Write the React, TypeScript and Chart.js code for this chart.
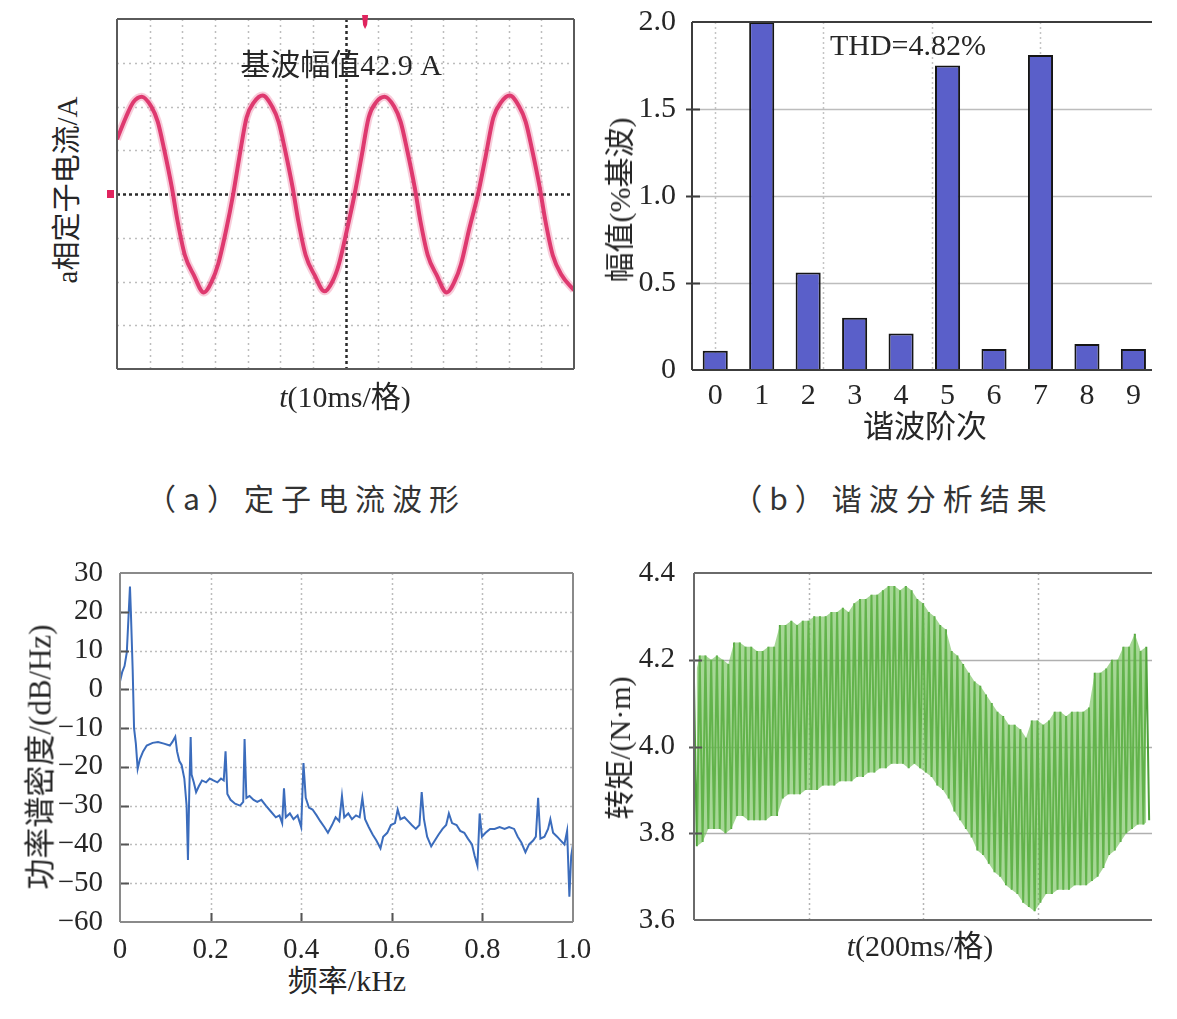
import React, { useEffect, useRef } from "react";
import { Chart, registerables } from "chart.js";

Chart.register(...registerables);

// ---------------- data ----------------
// (a) stator current waveform, t in ms, current in A (10 ms per division, 20 A per division)
const waveTimeMs = [
  0, 2.7, 5, 7.6, 10.5, 12.5, 14.5, 16.8, 18.5, 20.8, 23.5, 26.6, 29, 31, 33.5, 35.6,
  37.5, 39.7, 42, 44.6, 47.5, 49.5, 51.5, 53.8, 55.5, 57.8, 60.5, 63.6, 66, 68, 70.5, 72.8,
  74.9, 77.1, 79.4, 82, 84.9, 86.9, 88.9, 91.2, 92.9, 95.2, 97.9, 101, 103.4, 105.4, 107.9, 110.6,
  112.9, 115.3, 117.7, 120.3, 123.2, 125.2, 127.2, 129.5, 131.2, 133.5, 136.2, 140,
];
const waveCurrentA = [
  25, 35, 42, 44.5, 40, 33, 20, 3, -12, -28, -37, -45, -40, -32, -16, 0,
  17, 35, 42, 45, 40, 33, 20, 3, -12, -28, -37, -44.5, -40, -32, -16, 0,
  17, 35, 42, 44.5, 40, 33, 20, 3, -12, -28, -37, -45, -40, -32, -16, 0,
  17, 35, 42, 45, 40, 33, 20, 3, -12, -28, -37, -44,
];
const scopeGridMs = [10, 20, 30, 40, 50, 60, 80, 90, 100, 110, 120, 130];
const scopeGridA = [-60, -40, -20, 20, 40, 60];

// (b) harmonic analysis
const harmonicOrders = [0, 1, 2, 3, 4, 5, 6, 7, 8, 9];
const harmonicPercent = [0.11, 2.0, 0.56, 0.3, 0.21, 1.75, 0.12, 1.81, 0.15, 0.12];
const harmonicGridX = [0, 2.33, 4.67, 7];
const harmonicGridY = [0.5, 1.0, 1.5];

// (c) power spectral density
const psdFreqKHz = [
  0, 0.005, 0.01, 0.015, 0.0185, 0.022, 0.024, 0.028, 0.031, 0.035,
  0.039, 0.044, 0.051, 0.059, 0.072, 0.084, 0.097, 0.11, 0.116, 0.122,
  0.126, 0.131, 0.136, 0.142, 0.147, 0.15, 0.153, 0.156, 0.158, 0.163,
  0.168, 0.174, 0.181, 0.19, 0.198, 0.206, 0.215, 0.223, 0.229, 0.233,
  0.237, 0.244, 0.254, 0.265, 0.272, 0.275, 0.279, 0.286, 0.295, 0.303,
  0.312, 0.322, 0.333, 0.344, 0.352, 0.358, 0.362, 0.366, 0.375, 0.383,
  0.392, 0.4, 0.405, 0.41, 0.417, 0.425, 0.434, 0.442, 0.451, 0.459,
  0.468, 0.476, 0.484, 0.49, 0.495, 0.504, 0.512, 0.521, 0.529, 0.535,
  0.541, 0.549, 0.558, 0.566, 0.575, 0.581, 0.59, 0.598, 0.607, 0.613,
  0.619, 0.628, 0.636, 0.644, 0.653, 0.661, 0.666, 0.671, 0.678, 0.687,
  0.695, 0.703, 0.712, 0.72, 0.726, 0.733, 0.743, 0.751, 0.76, 0.768,
  0.777, 0.783, 0.789, 0.794, 0.799, 0.807, 0.817, 0.827, 0.838, 0.849,
  0.859, 0.87, 0.878, 0.886, 0.895, 0.903, 0.912, 0.918, 0.923, 0.928,
  0.937, 0.945, 0.95, 0.956, 0.965, 0.973, 0.981, 0.987, 0.992, 0.996,
  1.0,
];
const psdDbHz = [
  2, 4.5, 6, 9.5, 18, 26.5, 20, 5, -10, -14,
  -20.5, -18, -16, -14.5, -13.8, -13.6, -14, -14.5, -13.5, -12.2,
  -16, -18.5, -19.5, -23, -30, -44, -26, -12.3, -22, -24,
  -26.5, -25, -23.5, -24, -23, -23.5, -24, -23, -23.5, -16,
  -27, -28.5, -29.5, -30, -29, -12.8, -28, -27.5, -28.5, -29,
  -28.5, -30, -31.5, -33, -32.5, -34.5, -25.5, -33, -32, -33.5,
  -32.5, -35.5, -19, -28, -30.5, -31, -32.5, -34, -35.5, -37,
  -35, -33, -34, -27.5, -33, -32, -33.5, -32.5, -33, -28,
  -33.5, -35.5, -37.5, -39, -41, -38, -37, -35, -34.5, -31,
  -33.5, -33, -34, -35, -36, -35, -26.5, -33.5, -38, -40.5,
  -39, -37.5, -36, -35, -32, -34.5, -35, -36.5, -37, -38.5,
  -40, -43, -45.5, -32, -38, -37, -36, -36, -35.5, -36,
  -35.5, -36, -38, -39.5, -42, -40, -39, -38, -28, -38.5,
  -38, -36, -33.5, -37, -38, -39, -40, -36.5, -53.5, -43,
  -40,
];
const psdTicksX = [0, 0.2, 0.4, 0.6, 0.8, 1.0];
const psdTicksY = [-60, -50, -40, -30, -20, -10, 0, 10, 20, 30];

// (d) torque: per-cycle peak and trough (N·m), one cycle every 10 ms, 200 ms per division
const torqueCycleMs = 10;
const torqueUpper = [
  4.15, 4.21, 4.21, 4.2, 4.21, 4.2, 4.19, 4.24, 4.24, 4.23,
  4.23, 4.22, 4.22, 4.23, 4.23, 4.28, 4.28, 4.29, 4.28, 4.29,
  4.29, 4.3, 4.3, 4.3, 4.31, 4.31, 4.32, 4.31, 4.33, 4.34,
  4.34, 4.35, 4.35, 4.36, 4.37, 4.37, 4.36, 4.37, 4.36, 4.34,
  4.33, 4.31, 4.3, 4.28, 4.27, 4.22, 4.21, 4.19, 4.17, 4.15,
  4.14, 4.12, 4.1, 4.08, 4.07, 4.05, 4.05, 4.04, 4.02, 4.06,
  4.06, 4.05, 4.06, 4.08, 4.08, 4.07, 4.08, 4.08, 4.08, 4.09,
  4.17, 4.17, 4.18, 4.2, 4.2, 4.23, 4.23, 4.26, 4.22, 4.23,
];
const torqueLower = [
  3.77, 3.78, 3.81, 3.81, 3.81, 3.8, 3.81, 3.84, 3.84, 3.83,
  3.83, 3.83, 3.83, 3.84, 3.84, 3.88, 3.89, 3.89, 3.89, 3.9,
  3.9, 3.9, 3.91, 3.91, 3.91, 3.92, 3.92, 3.92, 3.93, 3.93,
  3.94, 3.94, 3.95, 3.95, 3.96, 3.96, 3.96, 3.95, 3.96, 3.95,
  3.94, 3.93, 3.91, 3.9, 3.88, 3.85, 3.83, 3.81, 3.79, 3.76,
  3.75, 3.73, 3.71, 3.7, 3.68, 3.67, 3.66, 3.64, 3.63, 3.62,
  3.64, 3.66, 3.66, 3.67, 3.67, 3.67, 3.68, 3.68, 3.68, 3.69,
  3.7, 3.72, 3.75, 3.76, 3.78, 3.8, 3.81, 3.82, 3.82, 3.83,
];
const torqueGridX = [200, 400, 600];
const torqueGridY = [3.8, 4.0, 4.2];

// ---------------- helpers ----------------
const FONT = "'Liberation Serif', 'Noto Sans CJK SC', serif";
const CJK = "'Noto Sans CJK SC', sans-serif";
const TEXT = "#262626";

type FrameCfg = {
  xGrid?: number[];
  yGrid?: number[];
  xGridStyle?: { color: string; width: number; dash: number[] };
  yGridStyle?: { color: string; width: number; dash: number[] };
  sides: string[];
  frameColor: string;
  frameWidth: number;
  yTicks?: number[];
  xTicks?: number[];
  tickIn?: number;
  tickOut?: number;
  tickColor?: string;
  extraBefore?: (chart: any) => void;
  extraAfter?: (chart: any) => void;
};

function framePlugin(cfg: FrameCfg) {
  return {
    id: "frameGrid",
    beforeDatasetsDraw(chart: any) {
      const { ctx, chartArea: a, scales } = chart;
      ctx.save();
      const xs = cfg.xGridStyle;
      if (xs && cfg.xGrid) {
        ctx.strokeStyle = xs.color;
        ctx.lineWidth = xs.width;
        ctx.setLineDash(xs.dash);
        cfg.xGrid.forEach((v) => {
          const p = Math.round(scales.x.getPixelForValue(v)) + 0.5;
          ctx.beginPath();
          ctx.moveTo(p, a.top);
          ctx.lineTo(p, a.bottom);
          ctx.stroke();
        });
      }
      const ys = cfg.yGridStyle;
      if (ys && cfg.yGrid) {
        ctx.strokeStyle = ys.color;
        ctx.lineWidth = ys.width;
        ctx.setLineDash(ys.dash);
        cfg.yGrid.forEach((v) => {
          const p = Math.round(scales.y.getPixelForValue(v)) + 0.5;
          ctx.beginPath();
          ctx.moveTo(a.left, p);
          ctx.lineTo(a.right, p);
          ctx.stroke();
        });
      }
      ctx.restore();
      if (cfg.extraBefore) cfg.extraBefore(chart);
    },
    afterDatasetsDraw(chart: any) {
      const { ctx, chartArea: a, scales } = chart;
      ctx.save();
      ctx.setLineDash([]);
      ctx.strokeStyle = cfg.tickColor || cfg.frameColor;
      ctx.lineWidth = 2;
      const tin = cfg.tickIn || 0;
      const tout = cfg.tickOut || 0;
      (cfg.yTicks || []).forEach((v) => {
        const p = Math.round(scales.y.getPixelForValue(v)) + 0.5;
        ctx.beginPath();
        ctx.moveTo(a.left - tout, p);
        ctx.lineTo(a.left + tin, p);
        ctx.stroke();
      });
      (cfg.xTicks || []).forEach((v) => {
        const p = Math.round(scales.x.getPixelForValue(v)) + 0.5;
        ctx.beginPath();
        ctx.moveTo(p, a.bottom + tout);
        ctx.lineTo(p, a.bottom - tin);
        ctx.stroke();
      });
      ctx.strokeStyle = cfg.frameColor;
      ctx.lineWidth = cfg.frameWidth;
      const s = cfg.sides;
      ctx.beginPath();
      if (s.includes("top")) { ctx.moveTo(a.left, a.top); ctx.lineTo(a.right, a.top); }
      if (s.includes("right")) { ctx.moveTo(a.right, a.top); ctx.lineTo(a.right, a.bottom); }
      if (s.includes("bottom")) { ctx.moveTo(a.left, a.bottom); ctx.lineTo(a.right, a.bottom); }
      if (s.includes("left")) { ctx.moveTo(a.left, a.top); ctx.lineTo(a.left, a.bottom); }
      ctx.stroke();
      ctx.restore();
      if (cfg.extraAfter) cfg.extraAfter(chart);
    },
  };
}

function baseOptions(padding: any) {
  return {
    responsive: false,
    maintainAspectRatio: false,
    animation: false as const,
    events: [] as any[],
    layout: { padding },
    plugins: { legend: { display: false }, tooltip: { enabled: false } },
  };
}

function ChartCanvas(props: { left: number; top: number; width: number; height: number; build: () => any }) {
  const ref = useRef<HTMLCanvasElement | null>(null);
  useEffect(() => {
    const chart = new Chart(ref.current as HTMLCanvasElement, props.build());
    return () => chart.destroy();
  }, []);
  return (
    <canvas
      ref={ref}
      width={props.width}
      height={props.height}
      style={{ position: "absolute", left: props.left, top: props.top, width: props.width, height: props.height }}
    />
  );
}

function Label(props: { x: number; y: number; rotate?: number; size?: number; family?: string; spacing?: number; color?: string; children: any }) {
  return (
    <div
      style={{
        position: "absolute",
        left: props.x,
        top: props.y,
        transform: `translate(-50%, -50%) rotate(${props.rotate || 0}deg)`,
        fontSize: props.size || 28,
        fontFamily: props.family || FONT,
        letterSpacing: props.spacing || 0,
        color: props.color || TEXT,
        whiteSpace: "nowrap",
        lineHeight: 1,
      }}
    >
      {props.children}
    </div>
  );
}

// ---------------- chart builders ----------------
function buildScope() {
  const pts = waveTimeMs.map((t, i) => ({ x: t, y: waveCurrentA[i] }));
  return {
    type: "line",
    data: {
      datasets: [
        { data: pts, borderColor: "rgba(236,110,150,0.35)", borderWidth: 8, pointRadius: 0, cubicInterpolationMode: "monotone" },
        { data: pts, borderColor: "#d81e5b", borderWidth: 4, pointRadius: 0, cubicInterpolationMode: "monotone" },
      ],
    },
    options: {
      ...baseOptions({ left: 27, top: 19, right: 26, bottom: 21 }),
      scales: {
        x: { type: "linear", display: false, min: 0, max: 140 },
        y: { type: "linear", display: false, min: -80, max: 80 },
      },
    },
    plugins: [
      framePlugin({
        xGrid: scopeGridMs,
        yGrid: scopeGridA,
        xGridStyle: { color: "#bdbdbd", width: 1.5, dash: [2, 4] },
        yGridStyle: { color: "#bdbdbd", width: 1.5, dash: [2, 4] },
        sides: ["top", "right", "bottom", "left"],
        frameColor: "#5a5a5a",
        frameWidth: 2,
        extraBefore: (chart: any) => {
          const { ctx, chartArea: a, scales } = chart;
          const cx = Math.round(scales.x.getPixelForValue(70)) + 0.5;
          const cy = Math.round(scales.y.getPixelForValue(0)) + 0.5;
          ctx.save();
          ctx.strokeStyle = "#2b2b2b";
          ctx.lineWidth = 2.5;
          ctx.setLineDash([3, 3]);
          ctx.beginPath();
          ctx.moveTo(a.left, cy);
          ctx.lineTo(a.right, cy);
          ctx.moveTo(cx, a.top);
          ctx.lineTo(cx, a.bottom);
          ctx.stroke();
          ctx.restore();
        },
        extraAfter: (chart: any) => {
          const { ctx, chartArea: a, scales } = chart;
          const cy = scales.y.getPixelForValue(0);
          const tx = scales.x.getPixelForValue(76);
          ctx.save();
          ctx.fillStyle = "#e0245e";
          ctx.fillRect(a.left - 10, cy - 4, 7, 8);
          ctx.beginPath();
          ctx.moveTo(tx - 3, a.top - 4);
          ctx.lineTo(tx + 3, a.top - 4);
          ctx.lineTo(tx + 2, a.top + 6);
          ctx.lineTo(tx, a.top + 10);
          ctx.lineTo(tx - 2, a.top + 6);
          ctx.closePath();
          ctx.fill();
          ctx.restore();
        },
      }),
    ],
  };
}

function buildHarmonics() {
  return {
    type: "bar",
    data: {
      datasets: [
        {
          data: harmonicOrders.map((o, i) => ({ x: o, y: harmonicPercent[i] })),
          backgroundColor: "#5a5fc9",
          borderColor: "#151515",
          borderWidth: 2,
          barPercentage: 0.54,
          categoryPercentage: 1,
        },
      ],
    },
    options: {
      ...baseOptions({ left: 0, top: 28, right: 0, bottom: 0 }),
      scales: {
        x: {
          type: "linear",
          offset: false,
          min: -0.5,
          max: 9.4,
          grid: { display: false },
          border: { display: false },
          afterBuildTicks: (s: any) => { s.ticks = harmonicOrders.map((v) => ({ value: v })); },
          afterFit: (s: any) => { s.height = 42; },
          ticks: { autoSkip: false, maxRotation: 0, padding: 0, color: TEXT, font: { family: FONT, size: 30 }, callback: (v: any) => String(v) },
        },
        y: {
          type: "linear",
          min: 0,
          max: 2,
          grid: { display: false },
          border: { display: false },
          afterFit: (s: any) => { s.width = 92; },
          ticks: {
            stepSize: 0.5,
            padding: 8,
            color: TEXT,
            font: { family: FONT, size: 30 },
            callback: (v: any) => (Number(v) === 0 ? "0" : Number(v).toFixed(1)),
          },
        },
      },
    },
    plugins: [
      framePlugin({
        xGrid: harmonicGridX,
        yGrid: harmonicGridY,
        xGridStyle: { color: "#c4c4c4", width: 1.5, dash: [2, 3] },
        yGridStyle: { color: "#bdbdbd", width: 1.5, dash: [] },
        sides: ["top", "bottom", "left"],
        frameColor: "#3c3c3c",
        frameWidth: 2,
        yTicks: harmonicGridY,
        tickIn: 8,
        tickOut: 6,
      }),
    ],
  };
}

function buildPsd() {
  return {
    type: "line",
    data: {
      datasets: [
        {
          data: psdFreqKHz.map((f, i) => ({ x: f, y: psdDbHz[i] })),
          borderColor: "#3b6cbc",
          borderWidth: 2,
          pointRadius: 0,
          tension: 0,
        },
      ],
    },
    options: {
      ...baseOptions({ left: 0, top: 33, right: 27, bottom: 0 }),
      scales: {
        x: {
          type: "linear",
          min: 0,
          max: 1,
          grid: { display: false },
          border: { display: false },
          afterFit: (s: any) => { s.height = 38; },
          ticks: {
            stepSize: 0.2,
            autoSkip: false,
            maxRotation: 0,
            padding: 3,
            color: TEXT,
            font: { family: FONT, size: 29 },
            callback: (v: any) => (Number(v) === 0 ? "0" : Number(v).toFixed(1)),
          },
        },
        y: {
          type: "linear",
          min: -60,
          max: 30,
          grid: { display: false },
          border: { display: false },
          afterFit: (s: any) => { s.width = 120; },
          ticks: {
            stepSize: 10,
            padding: 9,
            color: TEXT,
            font: { family: FONT, size: 29 },
            callback: (v: any) => (Number(v) < 0 ? "\u2212" + Math.abs(Number(v)) : String(v)),
          },
        },
      },
    },
    plugins: [
      framePlugin({
        xGrid: psdTicksX.slice(1, -1),
        yGrid: psdTicksY.slice(1, -1),
        xGridStyle: { color: "#bdbdbd", width: 1.5, dash: [2, 3] },
        yGridStyle: { color: "#bdbdbd", width: 1.5, dash: [2, 3] },
        sides: ["top", "right", "bottom", "left"],
        frameColor: "#8a8a8a",
        frameWidth: 2,
        yTicks: psdTicksY.slice(1, -1),
        xTicks: psdTicksX.slice(1, -1),
        tickIn: 9,
        tickOut: 0,
        tickColor: "#555",
      }),
    ],
  };
}

function buildTorque() {
  const zigzag: { x: number; y: number }[] = [];
  torqueUpper.forEach((u, i) => {
    zigzag.push({ x: i * torqueCycleMs, y: u });
    zigzag.push({ x: i * torqueCycleMs + torqueCycleMs / 2, y: torqueLower[i] });
  });
  const upperEnv = torqueUpper.map((u, i) => ({ x: i * torqueCycleMs, y: u }));
  const lowerEnv = torqueLower.map((l, i) => ({ x: i * torqueCycleMs + torqueCycleMs / 2, y: l }));
  return {
    type: "line",
    data: {
      datasets: [
        { data: upperEnv, borderWidth: 0, borderColor: "rgba(0,0,0,0)", pointRadius: 0, fill: "+1", backgroundColor: "rgba(112,190,86,0.62)", tension: 0 },
        { data: lowerEnv, borderWidth: 0, borderColor: "rgba(0,0,0,0)", pointRadius: 0, fill: false, tension: 0 },
        { data: zigzag, borderColor: "#4e a03a".replace(" ", ""), borderWidth: 2, pointRadius: 0, tension: 0, fill: false },
      ],
    },
    options: {
      ...baseOptions({ left: 0, top: 33, right: 0, bottom: 30 }),
      scales: {
        x: { type: "linear", display: false, min: 0, max: 800 },
        y: {
          type: "linear",
          min: 3.6,
          max: 4.4,
          grid: { display: false },
          border: { display: false },
          afterFit: (s: any) => { s.width = 94; },
          ticks: {
            stepSize: 0.2,
            padding: 11,
            color: TEXT,
            font: { family: FONT, size: 29 },
            callback: (v: any) => Number(v).toFixed(1),
          },
        },
      },
    },
    plugins: [
      framePlugin({
        xGrid: torqueGridX,
        yGrid: torqueGridY,
        xGridStyle: { color: "#b5b5b5", width: 1.5, dash: [2, 3] },
        yGridStyle: { color: "#b0b0b0", width: 1.5, dash: [] },
        sides: ["top", "bottom", "left"],
        frameColor: "#6a6a6a",
        frameWidth: 2,
        yTicks: torqueGridY,
        tickIn: 8,
        tickOut: 5,
        tickColor: "#555",
      }),
    ],
  };
}

export default function App() {
  return (
    <div style={{ position: "absolute", left: 0, top: 0, width: 1177, height: 1019, background: "#fff", overflow: "hidden" }}>
      <ChartCanvas left={90} top={0} width={510} height={390} build={buildScope} />
      <ChartCanvas left={600} top={-6} width={552} height={418} build={buildHarmonics} />
      <ChartCanvas left={0} top={540} width={600} height={420} build={buildPsd} />
      <ChartCanvas left={600} top={540} width={552} height={410} build={buildTorque} />

      {/* panel (a) texts */}
      <Label x={341} y={65} size={30}>基波幅值42.9 A</Label>
      <Label x={67} y={190} rotate={-90} size={29}>a相定子电流/A</Label>
      <Label x={345} y={397} size={30}><span style={{ fontStyle: "italic" }}>t</span>(10ms/格)</Label>

      {/* panel (b) texts */}
      <Label x={908} y={45} size={30}>THD=4.82%</Label>
      <Label x={620} y={200} rotate={-90} size={30}>幅值(%基波)</Label>
      <Label x={925} y={426} size={31}>谐波阶次</Label>

      {/* captions */}
      <Label x={306} y={497} size={30} family={CJK} spacing={7} color="#333">（a）定子电流波形</Label>
      <Label x={893} y={497} size={30} family={CJK} spacing={7} color="#333">（b）谐波分析结果</Label>

      {/* panel (c) texts */}
      <Label x={40} y={757} rotate={-90} size={31}>功率谱密度/(dB/Hz)</Label>
      <Label x={347} y={981} size={30}>频率/kHz</Label>

      {/* panel (d) texts */}
      <Label x={620} y={748} rotate={-90} size={30}>转矩/(N·m)</Label>
      <Label x={920} y={946} size={30}><span style={{ fontStyle: "italic" }}>t</span>(200ms/格)</Label>
    </div>
  );
}
